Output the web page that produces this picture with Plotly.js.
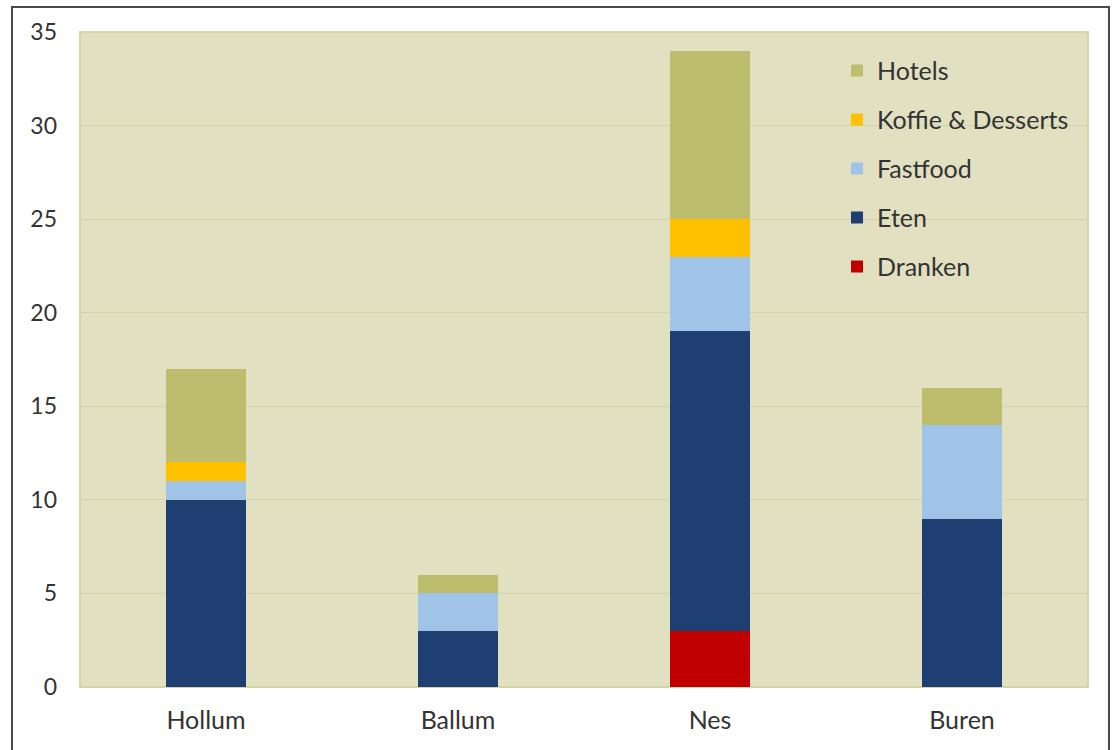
<!DOCTYPE html>
<html>
<head>
<meta charset="utf-8">
<script src="https://cdn.plot.ly/plotly-3.0.1.min.js"></script>
<style>
  html, body { margin: 0; padding: 0; background: #fff; }
  #chart { position: absolute; left: 0; top: 0; width: 1116px; height: 750px; }
  #frame { position: absolute; left: 11px; top: 6px; width: 1099px; height: 750px; border: 2px solid #4a4a4a; box-sizing: border-box; pointer-events: none; }
</style>
</head>
<body>
<div id="chart"></div>
<div id="frame"></div>
<script>
const categories = ['Hollum', 'Ballum', 'Nes', 'Buren'];
const dranken  = [0, 0, 3, 0];
const eten     = [10, 3, 16, 9];
const fastfood = [1, 2, 4, 5];
const koffie   = [1, 0, 2, 0];
const hotels   = [5, 1, 9, 2];
const yTicks = [0, 5, 10, 15, 20, 25, 30, 35];

const series = [
  {name: 'Dranken', y: dranken, color: '#C00000'},
  {name: 'Eten', y: eten, color: '#1F3F73'},
  {name: 'Fastfood', y: fastfood, color: '#A0C3E8'},
  {name: 'Koffie &amp; Desserts', y: koffie, color: '#FFC000'},
  {name: 'Hotels', y: hotels, color: '#BEBD6E'}
];

const traces = series.map((s, i) => ({
  type: 'bar',
  x: categories,
  y: s.y,
  name: s.name,
  legendgroup: 'g' + i,
  legendrank: 100 - i,
  marker: {color: s.color, line: {width: 0}},
  hoverinfo: 'x+y+name'
}));

const layout = {
  barmode: 'stack',
  bargap: 0.68,
  paper_bgcolor: '#ffffff',
  plot_bgcolor: '#E1E0C0',
  margin: {l: 80, r: 28, t: 32, b: 63},
  font: {family: 'Lato, "Open Sans", sans-serif', size: 24, color: '#333'},
  xaxis: {
    showgrid: false,
    zeroline: false,
    showline: false,
    ticks: '',
    tickfont: {size: 25, color: '#333'},
    ticklabelstandoff: 16
  },
  yaxis: {
    range: [0, 35],
    tickvals: yTicks,
    ticktext: yTicks.map(String),
    showgrid: true,
    gridcolor: '#D2D3A6',
    gridwidth: 1,
    zeroline: false,
    showline: false,
    ticks: '',
    tickfont: {size: 23, color: '#333'},
    ticklabelstandoff: 22
  },
  legend: {
    x: 0.751, y: 0.976, xanchor: 'left', yanchor: 'top',
    bgcolor: 'rgba(0,0,0,0)',
    traceorder: 'grouped',
    tracegroupgap: 13.5,
    font: {size: 25, color: '#333'},
    itemwidth: 30
  },
  shapes: [{
    type: 'rect', xref: 'paper', yref: 'paper', x0: 0, x1: 1, y0: 0, y1: 1,
    line: {color: '#D4D6A8', width: 2}, fillcolor: 'rgba(0,0,0,0)', layer: 'below'
  }],
  showlegend: true
};

Plotly.newPlot('chart', traces, layout, {displayModeBar: false, staticPlot: true});
</script>
</body>
</html>
